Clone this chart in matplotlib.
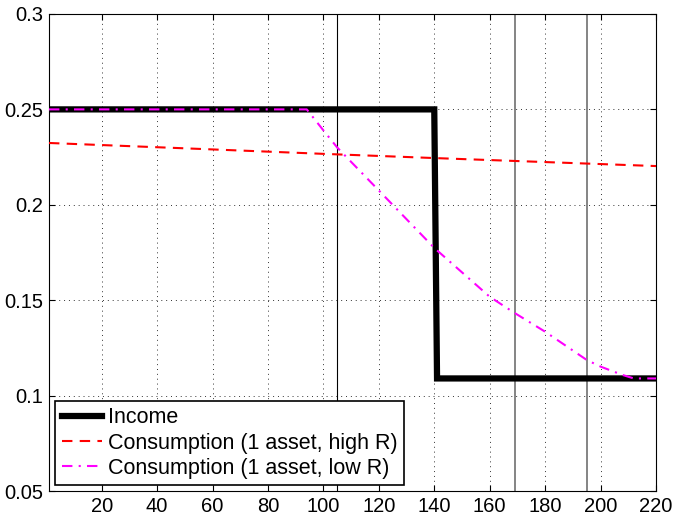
import matplotlib
matplotlib.use("Agg")
import matplotlib.pyplot as plt

plt.rcParams['font.family'] = ['Liberation Sans', 'DejaVu Sans']

income_x = [1, 140, 141, 220]
income_y = [0.25, 0.25, 0.109, 0.109]

high_x = [1, 50, 100, 140, 180, 220]
high_y = [0.2324, 0.2296, 0.2267, 0.2245, 0.2224, 0.2203]

low_x = [1, 94, 100, 105, 120, 140, 160, 169, 180, 195, 200, 208, 212, 220]
low_y = [0.25, 0.25, 0.239, 0.230, 0.2075, 0.1774, 0.1518, 0.1433, 0.1335,
         0.1187, 0.1152, 0.1108, 0.109, 0.109]

vlines_black = [105]
vlines_gray = [169, 195]

xticks = [20, 40, 60, 80, 100, 120, 140, 160, 180, 200, 220]
yticks = [0.05, 0.1, 0.15, 0.2, 0.25, 0.3]
ytick_labels = ['0.05', '0.1', '0.15', '0.2', '0.25', '0.3']

fig = plt.figure(figsize=(6.74, 5.16), dpi=100)
ax = fig.add_axes([0.0727, 0.0484, 0.9006, 0.9245])

for v in vlines_black:
    ax.axvline(v, color='black', lw=0.8, zorder=1)
for v in vlines_gray:
    ax.axvline(v, color='#707070', lw=1.2, zorder=1)

ax.plot(income_x, income_y, color='black', lw=4.5, label='Income', zorder=3,
        solid_joinstyle='miter')
ax.plot(high_x, high_y, color='red', lw=1.5, ls=(0, (5, 3.5)),
        label='Consumption (1 asset, high R)', zorder=4)
ax.plot(low_x, low_y, color='magenta', lw=1.5, ls=(0, (5, 3, 1, 3)),
        label='Consumption (1 asset, low R)', zorder=5)

ax.set_xlim(1, 220)
ax.set_ylim(0.05, 0.3)
ax.set_xticks(xticks)
ax.set_yticks(yticks)
ax.set_yticklabels(ytick_labels)
ax.tick_params(direction='in', top=True, right=True, labelsize=14.5, length=4,
               pad=4)
ax.grid(True, ls=(0, (1, 4)), color='black', lw=0.7, alpha=0.8)
for s in ax.spines.values():
    s.set_linewidth(0.8)

leg = ax.legend(loc='lower left', bbox_to_anchor=(0.01, 0.012), fontsize=15.5,
                fancybox=False, framealpha=1, edgecolor='black',
                borderpad=0.3, labelspacing=0.2, handlelength=1.9,
                handletextpad=0.25, borderaxespad=0)
leg.get_frame().set_linewidth(1.2)

fig.savefig('out.png', dpi=100)
